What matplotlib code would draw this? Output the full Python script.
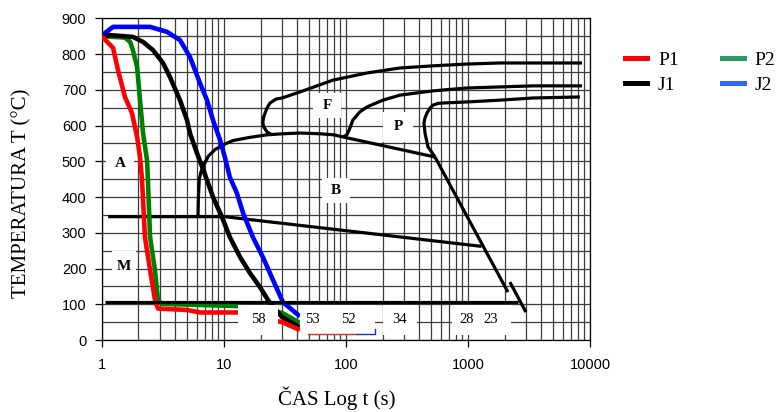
import matplotlib
matplotlib.use("Agg")
import matplotlib.pyplot as plt
from matplotlib.ticker import FixedLocator, FixedFormatter, NullFormatter, LogLocator, MultipleLocator
from matplotlib.lines import Line2D

# ---------------- data ----------------
# x ticks / y ticks
xtick_vals = [1, 10, 100, 1000, 10000]
xtick_labels = ["1", "10", "100", "1000", "10000"]
ytick_vals = [0, 100, 200, 300, 400, 500, 600, 700, 800, 900]

# cooling curves: time (s), temperature (°C)
p1_t = [1.0, 1.24, 1.36, 1.55, 1.77, 1.95, 2.06, 2.14, 2.26, 2.49, 2.73, 2.89, 5.0, 6.4, 13.1, 30.0, 42.0]
p1_T = [850, 817, 755, 680, 635, 568, 512, 448, 288, 196, 112, 88, 84, 77, 77, 50, 28]

p2_t = [1.0, 1.55, 1.71, 1.80, 1.95, 2.06, 2.18, 2.35, 2.39, 2.49, 2.73, 2.89, 3.12, 6.38, 12.8, 30.0, 42.0]
p2_T = [850, 846, 834, 811, 764, 671, 579, 504, 448, 288, 196, 112, 101, 98, 95, 76, 48]

j1_t = [1.0, 1.17, 1.80, 2.18, 2.63, 3.18, 3.62, 4.38, 5.0, 5.28, 6.03, 6.9, 8.16, 9.67, 11.2, 13.6, 16.4, 19.8, 23.0, 30.0, 42.0]
j1_T = [848, 853, 848, 834, 811, 775, 736, 671, 615, 579, 523, 470, 400, 344, 288, 232, 187, 148, 112, 64, 36]

j2_t = [1.0, 1.24, 2.49, 3.43, 4.38, 5.28, 6.38, 7.29, 8.16, 9.31, 10.2, 11.2, 12.8, 14.4, 17.3, 20.9, 25.0, 30.5, 42.0]
j2_T = [852, 876, 876, 862, 839, 792, 719, 671, 615, 560, 512, 456, 411, 355, 288, 232, 172, 106, 66]

series_names = ["P1", "J1", "P2", "J2"]

# CCT diagram lines
ms_t = [1.13, 10.2, 1290]
ms_T = [345, 345, 262]

mf_t = [1.06, 2567]
mf_T = [105, 105]

bs_t = [6.15, 6.2, 6.3, 6.5, 6.9, 7.5, 8.5, 10.2, 11.9, 16.4, 22.6, 30.5, 42.0, 61.0, 80.0, 94.7]
bs_T = [345, 400, 450, 470, 492, 515, 533, 548, 558, 567, 574, 577, 579, 577, 574, 568]

f_t = [24.8, 22.6, 21.3, 20.9, 21.1, 21.8, 22.6, 23.9, 26.8, 30.0, 42.1, 78.4, 149, 277, 517, 981, 1828, 3405, 8600]
f_T = [574, 582, 596, 607, 621, 635, 649, 663, 674, 677, 694, 727, 747, 761, 767, 772, 775, 775, 775]

ps_t = [94.7, 102, 108, 114, 130, 149, 201, 277, 517, 981, 1828, 3405, 8600]
ps_T = [568, 574, 593, 615, 638, 652, 671, 685, 697, 705, 708, 711, 711]

pf_t = [537, 490, 471, 445, 436, 445, 462, 490, 517, 570, 624, 981, 1828, 3405, 8260]
pf_T = [512, 532, 540, 579, 607, 621, 635, 649, 657, 662, 663, 666, 671, 677, 680]

bf_t = [94.7, 537]
bf_T = [568, 512]

diag1_t = [537, 2127]
diag1_T = [512, 134]
diag2_t = [2208, 2985]
diag2_T = [162, 78]

# small red/blue stroke under label row
art_red_t = [48.7, 123]
art_blue_t = [123, 173, 173]
art_red_T = [18, 18]
art_blue_T = [18, 18, 30]

# region labels
region_labels = ["A", "M", "F", "B", "P"]
region_x = [1.41, 1.52, 70, 83, 267]
region_y = [495, 206, 657, 418, 596]
region_pad = [0.56, 0.31, 0.60, 0.59, 0.67]
region_aspect = [1.0, 1.8, 0.67, 0.62, 0.79]

num_labels = ["58", "53", "52", "34", "28", "23"]
num_x = [19.1, 52.8, 104, 277, 968, 1540]
num_y = [56, 56, 56, 56, 56, 56]
num_pad = [0.89, 0.34, 1.37, 0.68, 0.45, 0.9]
num_aspect = [0.65, 1.7, 0.42, 0.85, 1.29, 0.64]

# ---------------- figure ----------------
SERIF = ["Liberation Serif", "DejaVu Serif"]
SANS = ["Liberation Sans", "DejaVu Sans"]

fig = plt.figure(figsize=(7.77, 4.12), dpi=100)
L, R, T, B = 101.7, 590.0, 18.3, 340.0
W, H = 777.0, 412.0
ax = fig.add_axes([L / W, 1 - B / H, (R - L) / W, (B - T) / H])

ax.set_xscale("log")
ax.set_xlim(1, 10000)
ax.set_ylim(0, 900)

ax.xaxis.set_major_locator(FixedLocator(xtick_vals))
ax.xaxis.set_major_formatter(FixedFormatter(xtick_labels))
ax.xaxis.set_minor_locator(LogLocator(base=10, subs=[2, 3, 4, 5, 6, 7, 8, 9], numticks=50))
ax.xaxis.set_minor_formatter(NullFormatter())
ax.yaxis.set_major_locator(FixedLocator(ytick_vals))
ax.yaxis.set_minor_locator(MultipleLocator(50))

ax.tick_params(which="major", length=5, width=0.9, direction="out", pad=6,
               labelsize=10.5, color="black")
ax.tick_params(axis="x", which="major", pad=8)
ax.tick_params(which="minor", length=0)
for lab in ax.get_xticklabels() + ax.get_yticklabels():
    lab.set_family(SANS)

ax.set_axisbelow(True)
ax.grid(True, which="both", color="#3c3c3c", lw=0.9)
for s in ax.spines.values():
    s.set_color("black")
    s.set_linewidth(0.9)

# CCT lines
cct_kw = dict(color="black", lw=2.3, zorder=3, solid_capstyle="butt", solid_joinstyle="round")
for xs, ys in [(ms_t, ms_T), (bs_t, bs_T), (f_t, f_T), (ps_t, ps_T), (pf_t, pf_T),
               (bf_t, bf_T), (diag1_t, diag1_T), (diag2_t, diag2_T)]:
    ax.plot(xs, ys, **cct_kw)
ax.plot(mf_t, mf_T, color="black", lw=2.3, zorder=7, solid_capstyle="butt")

# cooling curves
ckw = dict(lw=3.3, solid_joinstyle="round", solid_capstyle="butt")
ax.plot(j2_t, j2_T, color="#0000ff", zorder=4, **ckw)
ax.plot(p2_t, p2_T, color="#008000", zorder=4.1, **ckw)
ax.plot(j1_t, j1_T, color="black", zorder=4.2, **ckw)
ax.plot(p1_t, p1_T, color="#ff0000", zorder=4.3, **ckw)

# tiny stroke
ax.plot(art_red_t, art_red_T, color="#e03020", lw=1.0, zorder=8)
ax.plot(art_blue_t, art_blue_T, color="#1030d0", lw=1.0, zorder=8)

# region labels (white boxes)
for s, x, y, p, a in zip(region_labels, region_x, region_y, region_pad, region_aspect):
    ax.text(x, y, s, family=SERIF, fontsize=11, fontweight="bold", ha="center", va="center",
            zorder=6, bbox=dict(boxstyle=f"square,pad={p}", fc="white", ec="none",
                                mutation_aspect=a))

n = len(num_labels)
for i, (s, x, y, p, a) in enumerate(zip(num_labels, num_x, num_y, num_pad, num_aspect)):
    ax.text(x, y, s, family=SERIF, fontsize=10.5, ha="center", va="center",
            zorder=6 + 0.01 * (n - i), bbox=dict(boxstyle=f"square,pad={p}", fc="white",
                                                 ec="none", mutation_aspect=a))

# axis titles
fig.text(337 / W, 1 - 398 / H, "ČAS Log t (s)", family=SERIF, fontsize=15, ha="center", va="center")
fig.text(22 / W, 1 - 193 / H, "TEMPERATURA T (°C)", family=SERIF, fontsize=15, rotation=90,
         ha="center", va="center")

# legend
handles = [Line2D([], [], color="#ff0000", lw=3.6),
           Line2D([], [], color="black", lw=3.6),
           Line2D([], [], color="#2e9960", lw=3.6),
           Line2D([], [], color="#3366ff", lw=3.6)]
fig.legend(handles, series_names, ncol=2, loc="upper left",
           bbox_to_anchor=(625 / W, 1 - 51 / H), frameon=False, borderpad=0, borderaxespad=0,
           handlelength=1.15, handletextpad=0.55, columnspacing=2.2, labelspacing=0.39,
           prop={"family": SERIF, "size": 14})

fig.savefig("out.png", dpi=100)
